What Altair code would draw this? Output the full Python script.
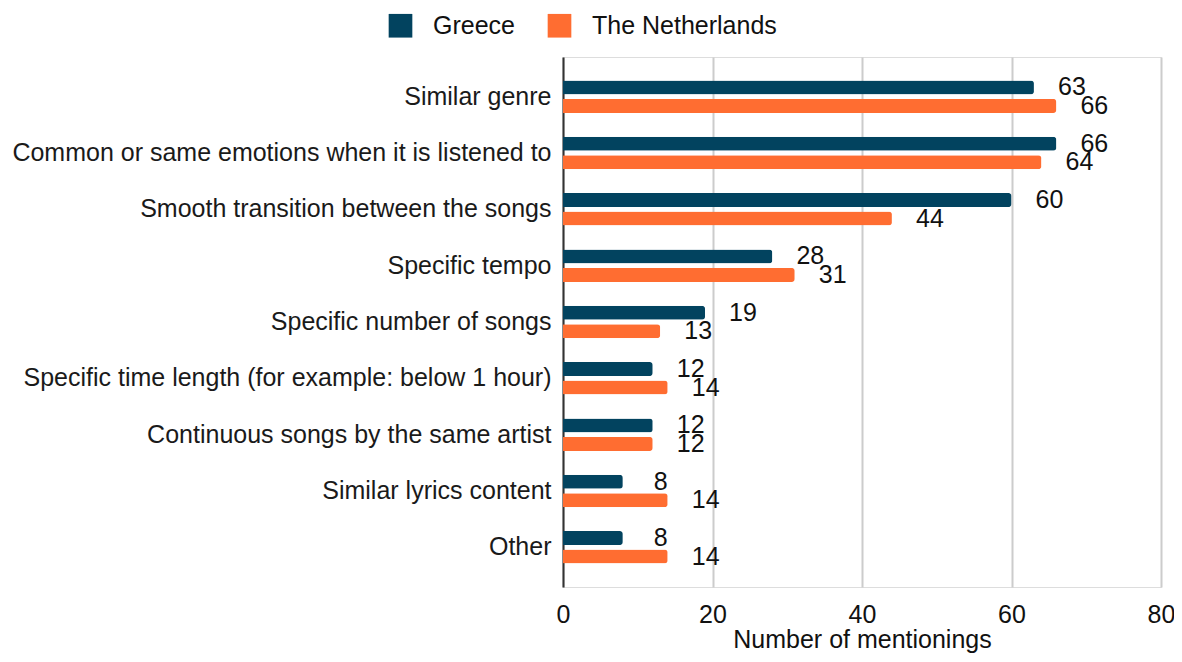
import altair as alt
import pandas as pd

categories = [
    "Similar genre",
    "Common or same emotions when it is listened to",
    "Smooth transition between the songs",
    "Specific tempo",
    "Specific number of songs",
    "Specific time length (for example: below 1 hour)",
    "Continuous songs by the same artist",
    "Similar lyrics content",
    "Other",
]
greece = [63, 66, 60, 28, 19, 12, 12, 8, 8]
netherlands = [66, 64, 44, 31, 13, 14, 12, 14, 14]
series = ["Greece", "The Netherlands"]
colors = ["#02435f", "#ff6d31"]

rows = []
for c, g, n in zip(categories, greece, netherlands):
    rows.append({"category": c, "country": series[0], "value": g})
    rows.append({"category": c, "country": series[1], "value": n})
df = pd.DataFrame(rows)

FONT = "Liberation Sans"
FS = 25

y_enc = alt.Y("category:N", sort=categories,
              scale=alt.Scale(paddingInner=0.43, paddingOuter=0.42),
              axis=alt.Axis(title=None, ticks=False, labelFontSize=FS, labelColor="#1a1a1a",
                            labelFont=FONT, labelPadding=12, domain=True, domainColor="#333333",
                            domainWidth=2, labelLimit=800, grid=False))
yoff = alt.YOffset("country:N", sort=series, scale=alt.Scale(paddingInner=0.263, paddingOuter=0))
x_enc = alt.X("value:Q", scale=alt.Scale(domain=[0, 80]),
              axis=alt.Axis(values=[0, 20, 40, 60, 80], title="Number of mentionings",
                            titleFontSize=FS, titleFont=FONT, titleFontWeight="normal",
                            titleColor="#111111", labelFontSize=FS, labelFont=FONT,
                            labelColor="#111111", ticks=False, domain=False, labelPadding=15,
                            labelFlush=False, titlePadding=0, grid=True, gridColor="#cccccc",
                            gridWidth=2))

bars = alt.Chart(df).mark_bar(cornerRadiusEnd=3, size=14).encode(
    x=x_enc,
    y=y_enc,
    yOffset=yoff,
    color=alt.Color("country:N", sort=series,
                    scale=alt.Scale(domain=series, range=colors),
                    legend=alt.Legend(title=None, orient="none", direction="horizontal",
                                      legendX=-175, legendY=-44, symbolType="square",
                                      symbolSize=560, symbolOpacity=1, symbolStrokeWidth=0,
                                      labelFontSize=FS, labelFont=FONT, labelColor="#111111",
                                      labelLimit=400, columnPadding=32, labelOffset=20)),
)

labels = alt.Chart(df).mark_text(align="center", baseline="middle", dx=38, fontSize=FS,
                                 font=FONT, color="#111111").encode(
    x=alt.X("value:Q"),
    y=alt.Y("category:N", sort=categories),
    yOffset=alt.YOffset("country:N", sort=series),
    text=alt.Text("value:Q"),
)

chart = alt.layer(bars, labels).properties(
    width=598, height=530,
    autosize=alt.AutoSizeParams(type="none"),
    padding={"left": 555, "top": 49, "right": 13, "bottom": 67},
).configure_view(stroke=None).configure(font=FONT)

chart.save("out.html", embed_options={"renderer": "svg", "actions": False})
